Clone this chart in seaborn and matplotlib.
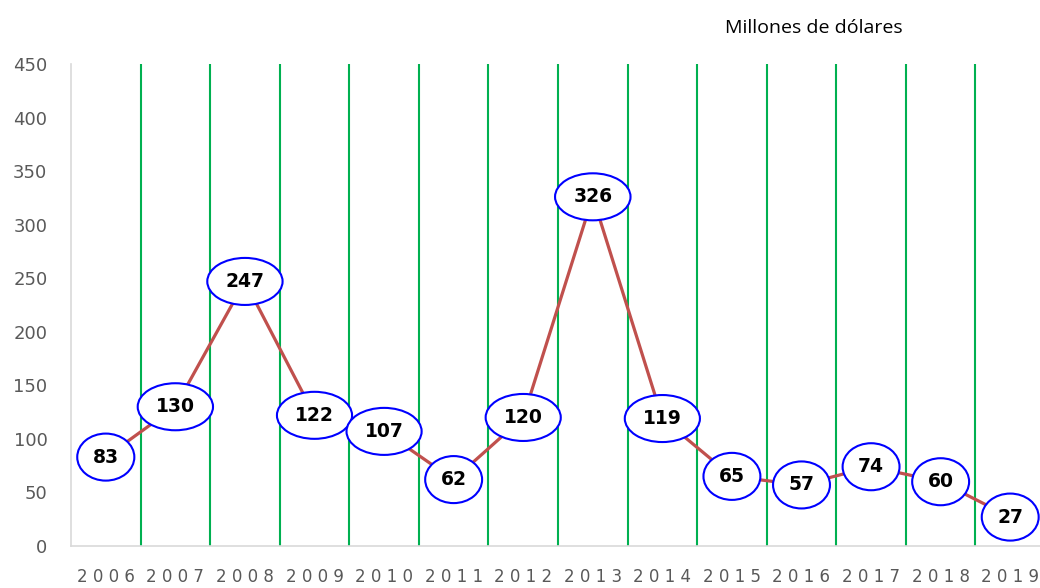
import matplotlib
matplotlib.use("Agg")
import matplotlib.pyplot as plt
import seaborn as sns
import pandas as pd

# data
years = ["2006", "2007", "2008", "2009", "2010", "2011", "2012",
         "2013", "2014", "2015", "2016", "2017", "2018", "2019"]
values = [83, 130, 247, 122, 107, 62, 120, 326, 119, 65, 57, 74, 60, 27]
y_ticks = [0, 50, 100, 150, 200, 250, 300, 350, 400, 450]
unit_label = "Millones de dólares"

df = pd.DataFrame({"year": years, "value": values})

sns.set_style("white")
plt.rcParams["font.family"] = ["DejaVu Sans"]

fig = plt.figure(figsize=(10.4, 5.88), dpi=100)
ax = fig.add_axes([71 / 1040, 42 / 588, 974 / 1040, 482 / 588])

sns.lineplot(data=df, x="year", y="value", color="#C0504D", linewidth=2.3,
             ax=ax, zorder=2, sort=False)

# green separators between the years
for i in range(len(years) - 1):
    ax.axvline(i + 0.5, color="#00B050", linewidth=1.5, zorder=1)

for i, v in enumerate(values):
    ax.text(i, v, str(v), ha="center", va="center", fontsize=13.5,
            fontweight="bold", color="black", zorder=3,
            bbox=dict(boxstyle="ellipse,pad=0.38", facecolor="white",
                      edgecolor="#0000FF", linewidth=1.5))

ax.set_xlim(-0.5, len(years) - 0.5)
ax.set_ylim(0, 450)
ax.set_yticks(y_ticks)
ax.set_xticks(range(len(years)))
ax.set_xticklabels([" ".join(y) for y in years])
ax.tick_params(axis="x", length=0, pad=16, labelsize=12, labelcolor="#595959")
ax.tick_params(axis="y", length=0, pad=17, labelsize=13, labelcolor="#595959")
ax.set_xlabel("")
ax.set_ylabel("")

for side in ["top", "right"]:
    ax.spines[side].set_visible(False)
ax.spines["left"].set_color("#D9D9D9")
ax.spines["bottom"].set_color("#D9D9D9")
ax.spines["left"].set_linewidth(1.2)
ax.spines["bottom"].set_linewidth(1.2)

fig.text(725 / 1040, 1 - 28 / 588, unit_label, ha="left", va="center",
         fontsize=14, color="black", family="Open Sans")

fig.savefig("out.png", dpi=100)
